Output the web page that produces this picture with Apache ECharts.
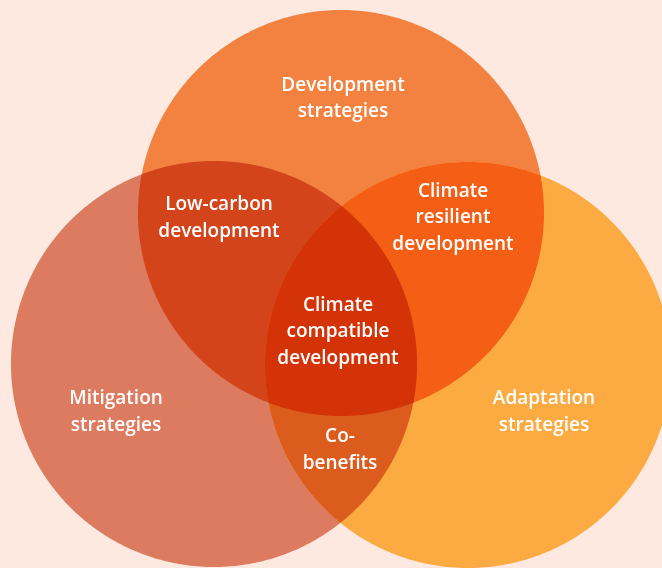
<!DOCTYPE html>
<html><head><meta charset="utf-8">
<script src="https://cdn.jsdelivr.net/npm/echarts@6/dist/echarts.min.js"></script>
<style>html,body{margin:0;padding:0;background:#fde9df}#c{width:662px;height:568px}</style>
</head><body><div id="c"></div>
<script>
// Sets (circles) of the Venn diagram, in data units
const setNames = ['Development strategies', 'Mitigation strategies', 'Adaptation strategies'];
const setCX = [341, 214, 468];
const setCY = [213, 364, 365];
const setR = [203, 203, 203];

// Regions: which sets intersect
const regionSets = [[0], [1], [2], [0, 1], [0, 2], [1, 2], [0, 1, 2]];
const regionLabels = ['Development\nstrategies', 'Mitigation\nstrategies', 'Adaptation\nstrategies',
  'Low-carbon\ndevelopment', 'Climate\nresilient\ndevelopment', 'Co-\nbenefits', 'Climate\ncompatible\ndevelopment'];
const labelX = [343, 116, 544, 219, 453, 340, 338];
const labelY = [98.5, 412, 412, 218, 218, 450, 332];
const regionColors = ['#f3813f', '#dc7b5f', '#fcab42', '#d4441a', '#f45f15', '#dc5c1e', '#d33306'];

function circlePoly(i, n) {
  const pts = [];
  for (let k = 0; k < n; k++) {
    const t = 2 * Math.PI * k / n;
    pts.push([setCX[i] + setR[i] * Math.cos(t), setCY[i] + setR[i] * Math.sin(t)]);
  }
  return pts;
}
function cross(a, b, p) { return (b[0] - a[0]) * (p[1] - a[1]) - (b[1] - a[1]) * (p[0] - a[0]); }
function lineIntersect(s, e, a, b) {
  const dx1 = e[0] - s[0], dy1 = e[1] - s[1], dx2 = b[0] - a[0], dy2 = b[1] - a[1];
  const den = dx1 * dy2 - dy1 * dx2;
  const t = ((a[0] - s[0]) * dy2 - (a[1] - s[1]) * dx2) / den;
  return [s[0] + t * dx1, s[1] + t * dy1];
}
function clipPoly(subject, clip, center) {
  let out = subject;
  for (let i = 0; i < clip.length; i++) {
    const a = clip[i], b = clip[(i + 1) % clip.length];
    const sgn = Math.sign(cross(a, b, center));
    const inside = p => cross(a, b, p) * sgn >= 0;
    const input = out; out = [];
    if (!input.length) break;
    for (let j = 0; j < input.length; j++) {
      const cur = input[j], prev = input[(j + input.length - 1) % input.length];
      if (inside(cur)) {
        if (!inside(prev)) out.push(lineIntersect(prev, cur, a, b));
        out.push(cur);
      } else if (inside(prev)) {
        out.push(lineIntersect(prev, cur, a, b));
      }
    }
  }
  return out;
}
function regionPoly(sets) {
  let poly = circlePoly(sets[0], 720);
  for (let k = 1; k < sets.length; k++) {
    const s = sets[k];
    poly = clipPoly(poly, circlePoly(s, 720), [setCX[s], setCY[s]]);
  }
  return poly;
}

const chart = echarts.init(document.getElementById('c'), null, {renderer: 'canvas'});
chart.setOption({
  backgroundColor: '#fde9df',
  animation: false,
  grid: {left: 0, right: 0, top: 0, bottom: 0},
  xAxis: {type: 'value', min: 0, max: 662, show: false},
  yAxis: {type: 'value', min: 0, max: 568, inverse: true, show: false},
  series: [{
    type: 'custom',
    coordinateSystem: 'cartesian2d',
    data: regionSets.map((s, i) => [i]),
    clip: false,
    renderItem: function (params, api) {
      const i = api.value(0);
      const sets = regionSets[i];
      const pts = regionPoly(sets).map(p => api.coord(p));
      const lp = api.coord([labelX[i], labelY[i]]);
      return {
        type: 'group',
        children: [{
          type: 'polygon',
          z2: sets.length,
          shape: {points: pts},
          style: {fill: regionColors[i]}
        }, {
          type: 'text',
          z2: 20,
          style: {
            text: regionLabels[i],
            x: lp[0], y: lp[1],
            fill: '#ffffff',
            font: '600 19px "Open Sans"',
            lineHeight: 26.5,
            align: 'center',
            verticalAlign: 'middle'
          }
        }]
      };
    }
  }]
});
</script>
</body></html>
